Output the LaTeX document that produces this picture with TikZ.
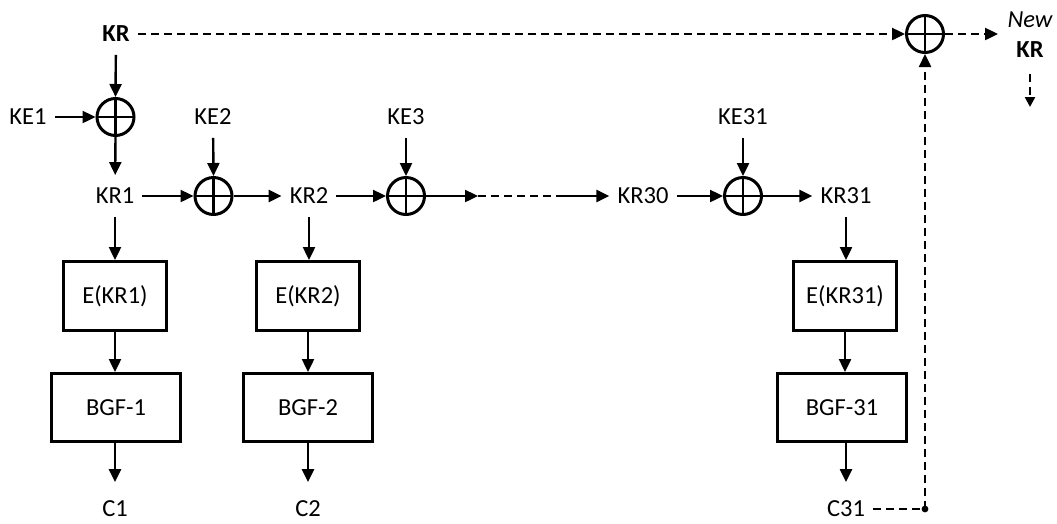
\documentclass[tikz,border=0pt]{standalone}
\usepackage{fontspec}
\setmainfont{Carlito}
\usetikzlibrary{arrows.meta}
\begin{document}
\begin{tikzpicture}[x=1pt,y=-1pt, line width=2.4pt,
  >={Triangle[length=13pt,width=12pt]},
  fnt/.style={font=\fontsize{24.5}{28}\selectfont},
  lbl/.style={fnt, text height=15.5pt, text depth=0pt, inner xsep=7pt, inner ysep=12pt},
  blbl/.style={lbl, font=\fontsize{24.5}{28}\selectfont\bfseries},
  ebox/.style={draw, fnt, line width=3pt, minimum width=103pt, minimum height=69pt, inner sep=0pt},
  bbox/.style={draw, fnt, line width=3pt, minimum width=129pt, minimum height=68pt, inner sep=0pt},
  xor/.style={draw, circle, minimum size=37pt, inner sep=0pt, line width=3pt,
    path picture={\draw[line width=2.6pt] (path picture bounding box.north) -- (path picture bounding box.south)
      (path picture bounding box.west) -- (path picture bounding box.east);}},
  dsh/.style={dash pattern=on 8pt off 5pt}]
\useasboundingbox (0,0) rectangle (1057,523);
% top
\node[blbl] (kr) at (116,34) {KR};
\node[xor] (x1) at (115.5,117) {};
\node[lbl] (ke1) at (28,117) {KE1};
\node[lbl] (kr1) at (115,196) {KR1};
\node[lbl] (ke2) at (213,117) {KE2};
\node[xor] (x2) at (213.5,196) {};
\node[lbl] (kr2) at (309,196) {KR2};
\node[lbl] (ke3) at (406,117) {KE3};
\node[xor] (x3) at (406,196) {};
\coordinate (d1) at (478,196);
\coordinate (d2) at (557,196);
\node[lbl] (kr30) at (643,196) {KR30};
\node[lbl] (ke31) at (743,117) {KE31};
\node[xor] (x31) at (743,196) {};
\node[lbl] (kr31) at (846,196) {KR31};
% boxes
\node[ebox] (e1) at (115,296) {E(KR1)};
\node[ebox] (e2) at (308,296) {E(KR2)};
\node[ebox] (e31) at (845,296) {E(KR31)};
\node[bbox] (b1) at (116,407.5) {BGF-1};
\node[bbox] (b2) at (308,407.5) {BGF-2};
\node[bbox] (b31) at (842,407.5) {BGF-31};
\node[lbl, inner ysep=2pt] (c1) at (115,509) {C1};
\node[lbl, inner ysep=2pt] (c2) at (308,509) {C2};
\node[lbl, inner ysep=2pt] (c31) at (846,509) {C31};
% right
\node[xor] (xt) at (925,34) {};
\node[lbl, font=\fontsize{24.5}{28}\selectfont\itshape] (new) at (1030,20) {New};
\node[blbl] (nkr) at (1030,50) {KR};
\coordinate (nin) at (998,34);
\coordinate (nout) at (1030,107);
\fill (925,509) circle (3.4pt) coordinate (dot);
% connectors
\draw[->] (kr) -- (x1.north);
\draw[->] (ke1) -- (x1.west);
\draw[->] (x1.south) -- (kr1);
\draw[->] (kr1) -- (x2.west);
\draw[->] (ke2) -- (x2.north);
\draw[->] (x2.east) -- (kr2);
\draw[->] (kr2) -- (x3.west);
\draw[->] (ke3) -- (x3.north);
\draw[->] (x3.east) -- (d1);
\draw[dsh] (d1) -- (d2);
\draw[->] (d2) -- (kr30);
\draw[->] (kr30) -- (x31.west);
\draw[->] (ke31) -- (x31.north);
\draw[->] (x31.east) -- (kr31);
\draw[->] (kr1) -- (e1);
\draw[->] (kr2.south) -- (kr2.south |- e2.north);
\draw[->] (kr31.south) -- (kr31.south |- e31.north);
\draw[->] (e1.south) -- (e1.south |- b1.north);
\draw[->] (e2) -- (b2);
\draw[->] (e31.south) -- (e31.south |- b31.north);
\draw[->, shorten >=16pt] (b1.south -| c1) -- (c1.north);
\draw[->, shorten >=16pt] (b2) -- (c2);
\draw[->, shorten >=16pt] (b31.south -| c31) -- (c31.north);
% dashed feedback
\draw[dsh, ->] (kr) -- (xt.west);
\draw[dsh, ->] (xt.east) -- (nin);
\draw[dsh, ->, >={Triangle[length=10pt,width=10pt]}] (nkr.south) ++(0,3) -- (nout);
\draw[dsh] (c31) -- (dot);
\draw[dsh, ->] (dot) -- (xt.south);
\end{tikzpicture}
\end{document}
